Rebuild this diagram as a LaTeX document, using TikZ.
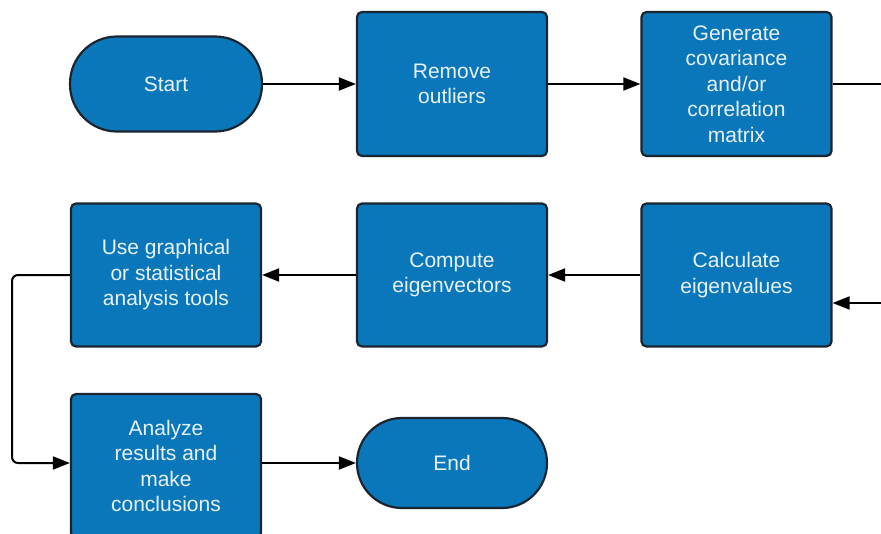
\documentclass[tikz,border=0pt]{standalone}
\usepackage{fontspec}
\setmainfont{Liberation Sans}
\usetikzlibrary{arrows.meta}
\definecolor{boxblue}{HTML}{0B77BB}
\definecolor{boxedge}{HTML}{1B2530}
\definecolor{boxtext}{HTML}{E8F2FA}
\begin{document}
\begin{tikzpicture}[x=1pt,y=-1pt,
  procbox/.style={draw=boxedge, line width=2.2pt, fill=boxblue, rounded corners=5pt,
    minimum width=190pt, minimum height=144pt, text=boxtext, align=center,
    inner sep=0pt, font=\fontsize{21}{25.5}\selectfont},
  termbox/.style={procbox, minimum width=192pt, minimum height=95pt, rounded corners=47pt},
  conn/.style={line width=2pt, draw=black},
  arr/.style={conn, -{Triangle[length=17pt,width=13pt]}}]
\useasboundingbox (0,0) rectangle (881,533);
\node[termbox] (start) at (166,84) {Start};
\node[procbox] (remove) at (452,84) {Remove\\outliers};
\node[procbox] (gen) at (736.5,84) {Generate\\covariance\\and/or\\correlation\\matrix};
\node[procbox, minimum height=143pt] (calc) at (736.5,275) {Calculate\\eigenvalues};
\node[procbox, minimum height=143pt] (comp) at (452,275) {Compute\\eigenvectors};
\node[procbox, minimum height=143pt] (use) at (166,275) {Use graphical\\or statistical\\analysis tools};
\node[procbox] (anal) at (166,466) {Analyze\\results and\\make\\conclusions};
\node[termbox, minimum width=190pt, minimum height=90pt, rounded corners=45pt] (end) at (452,463) {End};
\coordinate (outR) at (885,84);
\coordinate (inR) at (885,303);
\draw[arr] (start.east) -- (remove.west);
\draw[arr] (remove.east) -- (gen.west);
\draw[conn] (gen.east) -- (outR);
\draw[arr] (inR) -- (inR -| calc.east);
\draw[arr] (calc.west) -- (comp.east);
\draw[arr] (comp.west) -- (use.east);
\draw[arr, rounded corners=6pt] (use.west) -- (12,275) -- (12,463) -- (anal.west |- 0,463);
\draw[arr] (anal.east |- end.west) -- (end.west);
\end{tikzpicture}
\end{document}
